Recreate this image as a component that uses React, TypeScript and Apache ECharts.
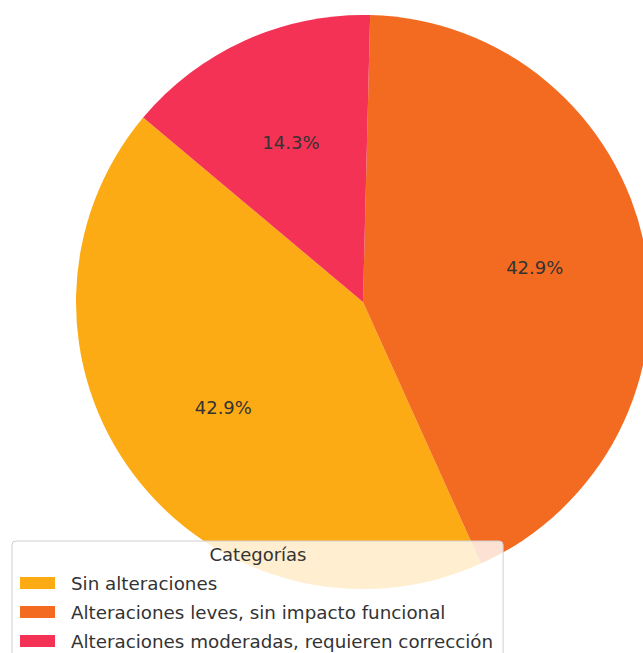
import React, { useEffect, useRef } from "react";
import * as echarts from "echarts";

const categories = [
  "Sin alteraciones",
  "Alteraciones leves, sin impacto funcional",
  "Alteraciones moderadas, requieren corrección",
];
const counts = [3, 3, 1];
const colors = ["#FDAB15", "#F36B21", "#F43255"];
const legendTitle = "Categorías";

export default function App() {
  const ref = useRef<HTMLDivElement>(null);
  useEffect(() => {
    if (!ref.current) return;
    const chart = echarts.init(ref.current, null, { renderer: "svg" });
    const total = counts.reduce((a, b) => a + b, 0);
    const data = categories.map((name, i) => ({
      name,
      value: counts[i],
      itemStyle: { color: colors[i] },
    }));
    const R = 287;
    const font = "DejaVu Sans";
    chart.setOption({
      animation: false,
      title: {
        text: legendTitle,
        left: 258,
        top: 545,
        textAlign: "center",
        textStyle: { fontFamily: font, fontSize: 18, fontWeight: "normal", color: "#333" },
        padding: 0,
        z: 10,
      },
      legend: {
        data: categories,
        orient: "vertical",
        left: 12,
        top: 541,
        height: 200,
        padding: [32, 10, 6, 8],
        itemWidth: 35,
        itemHeight: 12,
        itemGap: 9,
        icon: "rect",
        backgroundColor: "rgba(255,255,255,0.8)",
        borderColor: "#d0d0d0",
        borderWidth: 1,
        borderRadius: 4,
        textStyle: { fontFamily: font, fontSize: 18.3, color: "#333", lineHeight: 20, padding: [0, 0, 0, 11] },
        selectedMode: false,
        z: 5,
      },
      series: [
        {
          type: "pie",
          center: [363, 302],
          radius: [0, R],
          startAngle: 140,
          clockwise: false,
          silent: true,
          label: { show: false },
          labelLine: { show: false },
          data,
        },
        {
          type: "pie",
          center: [363, 302],
          radius: [R * 0.2, R],
          startAngle: 140,
          clockwise: false,
          silent: true,
          itemStyle: { color: "rgba(0,0,0,0)" },
          label: {
            show: true,
            position: "inside",
            formatter: (p: any) => ((p.value / total) * 100).toFixed(1) + "%",
            fontFamily: font,
            fontSize: 18,
            color: "#333",
          },
          labelLine: { show: false },
          data: categories.map((name, i) => ({ name, value: counts[i] })),
        },
      ],
    });
    return () => chart.dispose();
  }, []);
  return (
    <div
      ref={ref}
      style={{ position: "fixed", left: 0, top: 0, width: 643, height: 653, background: "#fff" }}
    />
  );
}
